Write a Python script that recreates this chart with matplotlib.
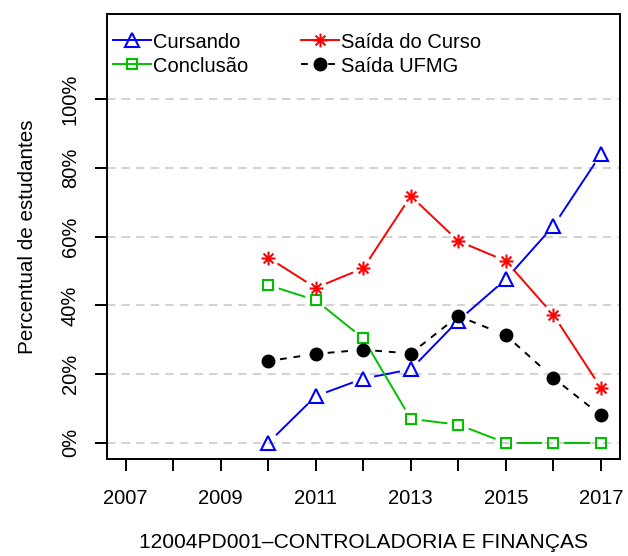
import numpy as np
import matplotlib
matplotlib.use('Agg')
import matplotlib.pyplot as plt
from matplotlib.path import Path
from matplotlib.lines import Line2D

plt.rcParams['font.family'] = ['Liberation Sans', 'DejaVu Sans']

# Percentual de estudantes por ano de referência
anos = [2010, 2011, 2012, 2013, 2014, 2015, 2016, 2017]
cursando = [0.0, 13.6, 18.7, 21.4, 35.6, 47.6, 63.1, 84.0]
saida_curso = [53.9, 45.1, 50.8, 71.8, 58.7, 52.9, 37.2, 16.0]
conclusao = [45.9, 41.5, 30.4, 7.0, 5.3, 0.0, 0.0, 0.0]
saida_ufmg = [23.8, 25.9, 27.1, 26.0, 36.9, 31.3, 18.9, 8.0]

anos_eixo = list(range(2007, 2018))
rotulos_x = ['2007', '', '2009', '', '2011', '', '2013', '', '2015', '', '2017']
niveis_y = [0, 20, 40, 60, 80, 100]
rotulos_y = ['0%', '20%', '40%', '60%', '80%', '100%']
titulo = '12004PD001\u2013CONTROLADORIA E FINANÇAS'

FS = 14.5

# asterisco estilo pch=8 (+ e x sobrepostos)
ang = np.deg2rad([0, 45, 90, 135])
verts, codes = [], []
for a in ang:
    verts += [(np.cos(a), np.sin(a)), (-np.cos(a), -np.sin(a))]
    codes += [Path.MOVETO, Path.LINETO]
asterisco = Path(verts, codes)

fig = plt.figure(figsize=(6.28, 5.56), dpi=100)
ax = fig.add_axes([106.5 / 628, 0.1737, (620 - 106.5) / 628, 0.8015])
ax.set_xlim(2006.6, 2017.4)
ax.set_ylim(-4.8, 124.8)

for v in niveis_y:
    ax.axhline(v, color='#d3d3d3', lw=1.5, linestyle=(0, (4, 3)), zorder=0)

GAP = 12.0  # distância em pixels entre o ponto e a linha (tipo "b")


def linha_b(x, y, **kw):
    pts = ax.transData.transform(np.column_stack([x, y]))
    inv = ax.transData.inverted()
    for p0, p1 in zip(pts[:-1], pts[1:]):
        d = p1 - p0
        n = np.hypot(*d)
        if n <= 2 * GAP:
            continue
        u = d / n
        a = inv.transform(p0 + u * GAP)
        b = inv.transform(p1 - u * GAP)
        ax.plot([a[0], b[0]], [a[1], b[1]], **kw)


series = [
    (cursando, 'blue', '^', 10, 'none', '-', 'Cursando'),
    (conclusao, '#00c000', 's', 7.5, 'none', '-', 'Conclusão'),
    (saida_curso, 'red', asterisco, 10, 'red', '-', 'Saída do Curso'),
    (saida_ufmg, 'black', 'o', 8.5, 'black', (0, (3.5, 3.5)), 'Saída UFMG'),
]

handles = []
for vals, cor, mk, ms, mfc, ls, nome in series:
    linha_b(anos, vals, color=cor, lw=1.4, linestyle=ls, zorder=2)
    ax.plot(anos, vals, linestyle='none', marker=mk, markersize=ms,
            markerfacecolor=mfc, markeredgecolor=cor, markeredgewidth=1.5, zorder=3)
    handles.append(Line2D([], [], color=cor, lw=1.4, linestyle=ls, marker=mk,
                          markersize=ms, markerfacecolor=mfc, markeredgecolor=cor,
                          markeredgewidth=1.5, label=nome))

ax.legend(handles=handles, ncol=2, loc='upper left', bbox_to_anchor=(0.013, 0.958),
          frameon=False, fontsize=FS, handlelength=1.9, handletextpad=0.1,
          columnspacing=2.6, labelspacing=0.25, borderpad=0, borderaxespad=0)

ax.set_xticks(anos_eixo)
ax.set_xticklabels(rotulos_x)
ax.set_yticks(niveis_y)
ax.set_yticklabels(rotulos_y, rotation=90, va='center')
ax.tick_params(axis='both', direction='out', length=8.6, width=1.4, labelsize=FS)
ax.tick_params(axis='x', pad=13)
ax.tick_params(axis='y', pad=10.5)

for s in ax.spines.values():
    s.set_linewidth(1.4)

ax.set_ylabel('Percentual de estudantes', fontsize=14.9, labelpad=17)
ax.set_xlabel(titulo, fontsize=15.1, labelpad=18)

fig.savefig('out.png', dpi=100)
